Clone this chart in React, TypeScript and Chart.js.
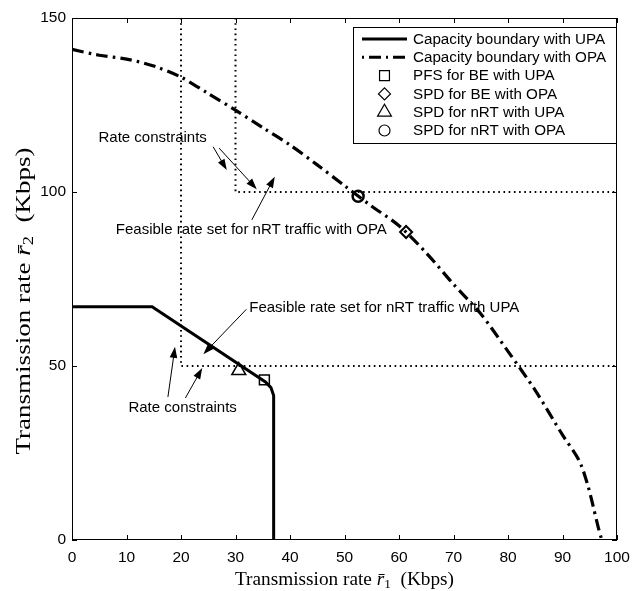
import React, { useEffect, useRef } from "react";
import { Chart, registerables } from "chart.js";

Chart.register(...registerables);

// ---- data ----
const upaX = [0, 14.7, 35.5, 36.5, 37, 37];
const upaY = [67, 67, 45.4, 43.8, 41.5, 0];

const opaX = [0, 5, 10, 15, 20, 25, 30, 35, 40, 45, 50, 55, 60, 65, 70, 75, 80, 85, 90, 93, 94.5, 95.5, 96.5, 97.2];
const opaY = [141, 139.3, 138.2, 136.2, 133, 128.3, 123.5, 118.5, 113.5, 107.8, 101.8, 95.9, 90.3, 82.5, 73.5, 65, 54.2, 43, 30.2, 23, 16.5, 10.5, 4, 0];

const rcLowX = [20, 20, 100];
const rcLowY = [150, 50, 50];
const rcHighX = [30, 30, 100];
const rcHighY = [150, 100, 100];

const pfsBeUpa = [35.3, 46];
const spdBeOpa = [61.3, 88.5];
const spdNrtUpa = [30.6, 48.7];
const spdNrtOpa = [52.5, 98.8];

const legendLabels = [
  "Capacity boundary with UPA",
  "Capacity boundary with OPA",
  "PFS for BE with UPA",
  "SPD for BE with OPA",
  "SPD for nRT with UPA",
  "SPD for nRT with OPA",
];

const xTickValues = [0, 10, 20, 30, 40, 50, 60, 70, 80, 90, 100];
const yTickValues = [0, 50, 100, 150];

// annotations (data coordinates)
const noteTexts = [
  "Rate constraints",
  "Feasible rate set for nRT traffic with OPA",
  "Feasible rate set for nRT traffic with UPA",
  "Rate constraints",
];
const noteX = [14.8, 32.9, 57.3, 20.3];
const noteY = [115.5, 89.1, 66.7, 37.9];

const arrowFromX = [25.9, 27.0, 33.0, 32.0, 17.6, 20.8];
const arrowFromY = [113.0, 112.6, 92.0, 66.3, 41.1, 40.8];
const arrowToX = [28.4, 33.9, 37.2, 24.1, 18.9, 23.9];
const arrowToY = [106.3, 100.8, 104.4, 53.4, 55.5, 49.4];

const pts = (xs: number[], ys: number[]) => xs.map((x, i) => ({ x, y: ys[i] }));

const SANS = "'Liberation Sans', Arial, sans-serif";
const SERIF = "'Liberation Serif', 'Times New Roman', serif";

function drawMarker(ctx: CanvasRenderingContext2D, style: string, x: number, y: number, r: number, lw: number) {
  ctx.save();
  ctx.lineWidth = lw;
  ctx.strokeStyle = "#000";
  ctx.beginPath();
  if (style === "rect") {
    const s = Math.SQRT1_2 * r;
    ctx.rect(x - s, y - s, 2 * s, 2 * s);
  } else if (style === "rectRot") {
    ctx.moveTo(x - r, y);
    ctx.lineTo(x, y - r);
    ctx.lineTo(x + r, y);
    ctx.lineTo(x, y + r);
    ctx.closePath();
  } else if (style === "triangle") {
    for (let k = 0; k < 3; k++) {
      const a = (k * 2 * Math.PI) / 3;
      const px = x + Math.sin(a) * r;
      const py = y - Math.cos(a) * r;
      if (k === 0) ctx.moveTo(px, py);
      else ctx.lineTo(px, py);
    }
    ctx.closePath();
  } else {
    ctx.arc(x, y, r, 0, Math.PI * 2);
  }
  ctx.stroke();
  ctx.restore();
}

function drawArrow(ctx: CanvasRenderingContext2D, x0: number, y0: number, x1: number, y1: number) {
  const ang = Math.atan2(y1 - y0, x1 - x0);
  const hl = 11;
  const hw = 3.8;
  ctx.save();
  ctx.strokeStyle = "#000";
  ctx.fillStyle = "#000";
  ctx.lineWidth = 1;
  ctx.beginPath();
  ctx.moveTo(x0, y0);
  ctx.lineTo(x1 - Math.cos(ang) * hl * 0.8, y1 - Math.sin(ang) * hl * 0.8);
  ctx.stroke();
  const bx = x1 - Math.cos(ang) * hl;
  const by = y1 - Math.sin(ang) * hl;
  ctx.beginPath();
  ctx.moveTo(x1, y1);
  ctx.lineTo(bx + Math.sin(ang) * hw, by - Math.cos(ang) * hw);
  ctx.lineTo(bx - Math.sin(ang) * hw, by + Math.cos(ang) * hw);
  ctx.closePath();
  ctx.fill();
  ctx.restore();
}

// draws "Transmission rate r̄_n (Kbps)" centered at origin along +x, scaled to target length
function drawAxisTitle(ctx: CanvasRenderingContext2D, sub: string, size: number, target: number) {
  const parts = [
    { t: "Transmission rate ", f: `${size}px ${SERIF}`, dy: 0 },
    { t: "r\u0304", f: `italic ${size}px ${SERIF}`, dy: 0 },
    { t: sub, f: `${Math.round(size * 0.7)}px ${SERIF}`, dy: size * 0.22 },
    { t: "  (Kbps)", f: `${size}px ${SERIF}`, dy: 0 },
  ];
  let w = 0;
  const widths = parts.map((p) => {
    ctx.font = p.f;
    const m = ctx.measureText(p.t).width;
    w += m;
    return m;
  });
  const s = target / w;
  ctx.save();
  ctx.scale(s, 1);
  let x = -w / 2;
  ctx.fillStyle = "#000";
  ctx.textBaseline = "middle";
  ctx.textAlign = "left";
  parts.forEach((p, i) => {
    ctx.font = p.f;
    ctx.fillText(p.t, x, p.dy);
    x += widths[i];
  });
  ctx.restore();
}

const overlay = {
  id: "overlay",
  afterDatasetsDraw(chart: any) {
    const ctx: CanvasRenderingContext2D = chart.ctx;
    const { left, right, top, bottom } = chart.chartArea;
    const xs = chart.scales.x;
    const ys = chart.scales.y;
    ctx.save();
    // box
    ctx.strokeStyle = "#000";
    ctx.lineWidth = 1;
    ctx.strokeRect(left + 0.5, top + 0.5, right - left - 1, bottom - top - 1);
    // inner ticks
    const tl = 5;
    ctx.beginPath();
    xTickValues.forEach((v) => {
      const px = Math.round(xs.getPixelForValue(v)) + 0.5;
      ctx.moveTo(px, bottom);
      ctx.lineTo(px, bottom - tl);
      ctx.moveTo(px, top);
      ctx.lineTo(px, top + tl);
    });
    yTickValues.forEach((v) => {
      const py = Math.round(ys.getPixelForValue(v)) + 0.5;
      ctx.moveTo(left, py);
      ctx.lineTo(left + tl, py);
      ctx.moveTo(right, py);
      ctx.lineTo(right - tl, py);
    });
    ctx.stroke();

    // annotation texts
    ctx.fillStyle = "#000";
    ctx.font = `15px ${SANS}`;
    ctx.textAlign = "center";
    ctx.textBaseline = "middle";
    noteTexts.forEach((t, i) => {
      ctx.fillText(t, xs.getPixelForValue(noteX[i]), ys.getPixelForValue(noteY[i]));
    });
    arrowFromX.forEach((_, i) => {
      drawArrow(
        ctx,
        xs.getPixelForValue(arrowFromX[i]),
        ys.getPixelForValue(arrowFromY[i]),
        xs.getPixelForValue(arrowToX[i]),
        ys.getPixelForValue(arrowToY[i])
      );
    });

    // legend
    const lw = 263;
    const lh = 116;
    const lx = right - 1 - lw;
    const ly = top + 9;
    ctx.fillStyle = "#fff";
    ctx.fillRect(lx, ly, lw, lh);
    ctx.strokeStyle = "#000";
    ctx.lineWidth = 1;
    ctx.strokeRect(lx + 0.5, ly + 0.5, lw, lh);
    const rowH = 18.3;
    const styles = ["line", "dashdot", "rect", "rectRot", "triangle", "circle"];
    const radii = [0, 0, 7, 6, 8, 5.5];
    legendLabels.forEach((lab, i) => {
      const cy = ly + 12 + i * rowH;
      const sx0 = lx + 9;
      const sx1 = lx + 54;
      const cx = (sx0 + sx1) / 2;
      if (styles[i] === "line" || styles[i] === "dashdot") {
        ctx.save();
        ctx.lineWidth = 3;
        ctx.strokeStyle = "#000";
        ctx.setLineDash(styles[i] === "dashdot" ? [2, 5, 12, 5] : []);
        ctx.beginPath();
        ctx.moveTo(sx0, cy);
        ctx.lineTo(sx1, cy);
        ctx.stroke();
        ctx.restore();
      } else {
        drawMarker(ctx, styles[i], cx, cy, radii[i], 1.2);
      }
      ctx.fillStyle = "#000";
      ctx.font = `15.2px ${SANS}`;
      ctx.textAlign = "left";
      ctx.textBaseline = "middle";
      ctx.fillText(lab, lx + 60, cy + 0.5);
    });

    // axis titles
    ctx.save();
    ctx.translate((left + right) / 2, 580);
    drawAxisTitle(ctx, "1", 19, 219);
    ctx.restore();
    ctx.save();
    ctx.translate(24, 301);
    ctx.rotate(-Math.PI / 2);
    drawAxisTitle(ctx, "2", 22, 307);
    ctx.restore();

    ctx.restore();
  },
};

export default function App() {
  const ref = useRef<HTMLCanvasElement | null>(null);
  useEffect(() => {
    if (!ref.current) return;
    const markerDs = (p: number[], style: string, r: number, bw: number) => ({
      data: [{ x: p[0], y: p[1] }],
      showLine: false,
      pointStyle: style,
      pointRadius: r,
      pointBorderWidth: bw,
      pointBorderColor: "#000",
      pointBackgroundColor: "rgba(0,0,0,0)",
    });
    const lineDs = (d: any[], width: number, dash: number[]) => ({
      data: d,
      showLine: true,
      borderColor: "#000",
      borderWidth: width,
      borderDash: dash,
      pointRadius: 0,
      tension: 0,
      fill: false,
    });
    const chart = new Chart(ref.current, {
      type: "scatter",
      data: {
        datasets: [
          lineDs(pts(rcLowX, rcLowY), 2, [1.6, 3.6]),
          lineDs(pts(rcHighX, rcHighY), 2, [1.6, 3.6]),
          lineDs(pts(upaX, upaY), 3, []),
          { ...lineDs(pts(opaX, opaY), 3.2, [12, 5, 2.5, 5]), tension: 0.3 },
          markerDs(pfsBeUpa, "rect", 7, 1.5),
          markerDs(spdBeOpa, "rectRot", 6, 2),
          markerDs(spdNrtUpa, "triangle", 8, 1.5),
          markerDs(spdNrtOpa, "circle", 5.5, 2.5),
        ] as any,
      },
      options: {
        animation: false,
        responsive: false,
        maintainAspectRatio: false,
        layout: { padding: { left: 0, top: 18, right: 24, bottom: 0 } },
        plugins: { legend: { display: false }, tooltip: { enabled: false }, title: { display: false } },
        scales: {
          x: {
            type: "linear",
            min: 0,
            max: 100,
            grid: { display: false, drawTicks: false },
            border: { display: false },
            ticks: { stepSize: 10, padding: 8, color: "#000", font: { family: SANS, size: 15.5 } },
            afterFit: (s: any) => {
              s.height = 51;
            },
          },
          y: {
            type: "linear",
            min: 0,
            max: 150,
            grid: { display: false, drawTicks: false },
            border: { display: false },
            ticks: { stepSize: 50, padding: 6, color: "#000", font: { family: SANS, size: 15.5 } },
            afterFit: (s: any) => {
              s.width = 72;
            },
          },
        },
      },
      plugins: [overlay],
    });
    return () => chart.destroy();
  }, []);
  return (
    <div style={{ position: "fixed", left: 0, top: 0, width: 641, height: 591, background: "#fff" }}>
      <canvas ref={ref} width={641} height={591} style={{ width: 641, height: 591, display: "block" }} />
    </div>
  );
}
